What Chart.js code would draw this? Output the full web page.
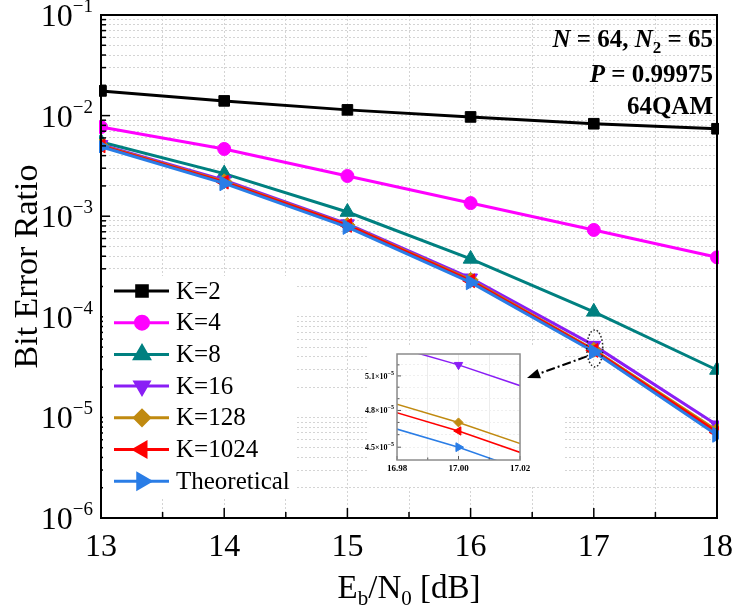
<!DOCTYPE html>
<html>
<head>
<meta charset="utf-8">
<script src="https://cdn.jsdelivr.net/npm/chart.js@4.4.1/dist/chart.umd.min.js"></script>
<style>
  body { margin: 0; background: #fff; }
  #wrap { position: relative; width: 736px; height: 612px; }
  #main { position: absolute; left: 0; top: 0; }
  #inset { position: absolute; left: 360px; top: 320px; }
</style>
</head>
<body>
<div id="wrap">
  <canvas id="main" width="736" height="612"></canvas>
  <canvas id="inset" width="260" height="175"></canvas>
</div>
<script>
// --- Data ---
const snr = [13, 14, 15, 16, 17, 18];
const berK2 = [1.76e-2, 1.40e-2, 1.14e-2, 9.7e-3, 8.3e-3, 7.4e-3];
const berK4 = [7.7e-3, 4.66e-3, 2.51e-3, 1.35e-3, 7.3e-4, 3.9e-4];
const berK8 = [5.47e-3, 2.65e-3, 1.10e-3, 3.76e-4, 1.12e-4, 2.96e-5];
const berK16 = [5.15e-3, 2.28e-3, 8.4e-4, 2.43e-4, 5.2e-5, 8.4e-6];
const berK128 = [5.05e-3, 2.22e-3, 8.2e-4, 2.33e-4, 4.7e-5, 7.4e-6];
const berK1024 = [5.0e-3, 2.18e-3, 8.1e-4, 2.28e-4, 4.63e-5, 7.1e-6];
const berTheory = [4.9e-3, 2.12e-3, 7.8e-4, 2.2e-4, 4.5e-5, 6.7e-6];

const xTickVals = [13, 13.5, 14, 14.5, 15, 15.5, 16, 16.5, 17, 17.5, 18];
const yExponents = [-6, -5, -4, -3, -2, -1];
const yMinorMantissas = [2, 3, 4, 5, 6, 7, 8, 9];

const insetXTicks = [16.98, 16.99, 17.00, 17.01, 17.02];
const insetXLabels = ['16.98', '', '17.00', '', '17.02'];
const insetYTicks = [4.5e-5, 4.6e-5, 4.7e-5, 4.8e-5, 4.9e-5, 5.0e-5, 5.1e-5, 5.2e-5];
const insetYLabels = ['4.5', '', '', '4.8', '', '', '5.1', ''];

const FONT = "'Liberation Serif', 'Times New Roman', serif";

// --- Helpers ---
function series(label, data, color, style, rotation, radius, order) {
  return {
    label, order,
    data: snr.map((x, i) => ({ x, y: data[i] })),
    borderColor: color, backgroundColor: color,
    borderWidth: 3, pointStyle: style, rotation,
    pointRadius: radius, pointBorderWidth: 1, pointBorderColor: color,
    pointBackgroundColor: color, clip: 2
  };
}

// draws pieces of text right-aligned at rx
function drawRich(ctx, parts, rx, base) {
  let w = 0;
  parts.forEach(p => { ctx.font = p.f; w += ctx.measureText(p.t).width; });
  let x = rx - w;
  parts.forEach(p => {
    ctx.font = p.f;
    ctx.fillText(p.t, x, base + (p.dy || 0));
    x += ctx.measureText(p.t).width;
  });
}
function drawRichLeft(ctx, parts, lx, base) {
  let x = lx;
  parts.forEach(p => {
    ctx.font = p.f;
    ctx.fillText(p.t, x, base + (p.dy || 0));
    x += ctx.measureText(p.t).width;
  });
  return x - lx;
}

const datasets = [
  series('K=2', berK2, '#000000', 'rect', 0, 7.5, 6),
  series('K=4', berK4, '#ff00ff', 'circle', 0, 6.5, 5),
  series('K=8', berK8, '#008080', 'triangle', 0, 8.5, 4),
  series('K=16', berK16, '#8a1ef5', 'triangle', 180, 8, 3),
  series('K=128', berK128, '#c08a10', 'rectRot', 0, 7.5, 2),
  series('K=1024', berK1024, '#ff0000', 'triangle', -90, 8, 1),
  series('Theoretical', berTheory, '#2a7de6', 'triangle', 90, 8.5, 0)
];

// --- Main chart decorations ---
const decor = {
  id: 'decor',
  afterDraw(chart) {
    const { ctx, chartArea: a, scales: { x, y } } = chart;
    ctx.save();
    ctx.strokeStyle = '#000';
    // x ticks (inward)
    ctx.lineWidth = 1.5;
    xTickVals.forEach(v => {
      const px = x.getPixelForValue(v);
      const len = Number.isInteger(v) ? 10 : 6;
      ctx.beginPath(); ctx.moveTo(px, a.bottom); ctx.lineTo(px, a.bottom - len); ctx.stroke();
    });
    // y ticks (inward) + labels
    yExponents.forEach(e => {
      const py = y.getPixelForValue(Math.pow(10, e));
      ctx.beginPath(); ctx.moveTo(a.left, py); ctx.lineTo(a.left + 9, py); ctx.stroke();
      if (e < -1) {
        yMinorMantissas.forEach(m => {
          const pm = y.getPixelForValue(m * Math.pow(10, e));
          ctx.beginPath(); ctx.moveTo(a.left, pm); ctx.lineTo(a.left + 5, pm); ctx.stroke();
        });
      }
      ctx.fillStyle = '#000';
      ctx.textBaseline = 'alphabetic';
      drawRich(ctx, [
        { t: '10', f: '32px ' + FONT },
        { t: '\u2212' + Math.abs(e), f: '19px ' + FONT, dy: -14 }
      ], a.left - 8, py + 11);
    });
    // frame
    ctx.lineWidth = 2;
    ctx.strokeRect(a.left, a.top, a.right - a.left, a.bottom - a.top);

    // axis titles
    ctx.fillStyle = '#000';
    ctx.textBaseline = 'alphabetic';
    const xt = [
      { t: 'E', f: '33px ' + FONT },
      { t: 'b', f: '21px ' + FONT, dy: 7 },
      { t: '/N', f: '33px ' + FONT },
      { t: '0', f: '21px ' + FONT, dy: 7 },
      { t: ' [dB]', f: '33px ' + FONT }
    ];
    let tw = 0;
    xt.forEach(p => { ctx.font = p.f; tw += ctx.measureText(p.t).width; });
    drawRichLeft(ctx, xt, (a.left + a.right) / 2 - tw / 2, 598);

    ctx.save();
    ctx.translate(37, (a.top + a.bottom) / 2);
    ctx.rotate(-Math.PI / 2);
    ctx.textAlign = 'center';
    ctx.font = '34px ' + FONT;
    ctx.fillText('Bit Error Ratio', 0, 0);
    ctx.restore();

    // annotation
    const b = 'bold 25px ' + FONT, bi = 'italic bold 25px ' + FONT;
    drawRich(ctx, [
      { t: 'N', f: bi }, { t: ' = 64, ', f: b }, { t: 'N', f: bi },
      { t: '2', f: 'bold 17px ' + FONT, dy: 6 }, { t: ' = 65', f: b }
    ], a.right - 4, 47);
    drawRich(ctx, [{ t: 'P', f: bi }, { t: ' = 0.99975', f: b }], a.right - 4, 82);
    drawRich(ctx, [{ t: '64QAM', f: b }], a.right - 4, 114);

    // legend
    ctx.fillStyle = '#fff';
    ctx.fillRect(a.left + 2, 276, 194, 222);
    chart.data.datasets.forEach((ds, i) => {
      const yy = 291 + i * 31.7;
      ctx.strokeStyle = ds.borderColor;
      ctx.fillStyle = ds.borderColor;
      ctx.lineWidth = 3;
      ctx.beginPath(); ctx.moveTo(a.left + 13, yy); ctx.lineTo(a.left + 68, yy); ctx.stroke();
      Chart.helpers.drawPoint(ctx, {
        pointStyle: ds.pointStyle, rotation: ds.rotation,
        radius: ds.pointRadius, borderWidth: 1
      }, a.left + 41, yy);
      ctx.fillStyle = '#000';
      ctx.font = '25px ' + FONT;
      ctx.textBaseline = 'middle';
      ctx.fillText(ds.label, a.left + 75, yy + 1);
    });
    ctx.restore();
  }
};

const mainChart = new Chart(document.getElementById('main'), {
  type: 'line',
  data: { datasets },
  options: {
    responsive: false, animation: false,
    layout: { padding: { left: 0, right: 19, top: 15, bottom: 0 } },
    plugins: { legend: { display: false }, tooltip: { enabled: false } },
    scales: {
      x: {
        type: 'linear', min: 13, max: 18,
        afterBuildTicks: s => { s.ticks = xTickVals.map(v => ({ value: v })); },
        afterFit: s => { s.height = 94; s.paddingLeft = 0; s.paddingRight = 0; },
        grid: { color: '#d4d4d4', lineWidth: 1, drawTicks: false },
        border: { display: false, dash: [2, 2] },
        ticks: {
          autoSkip: false, maxRotation: 0, padding: 10, color: '#000',
          font: { family: FONT, size: 32 },
          callback: v => Number.isInteger(v) ? String(v) : ''
        }
      },
      y: {
        type: 'logarithmic', min: 1e-6, max: 1e-1,
        afterBuildTicks: s => {
          const t = [];
          yExponents.forEach(e => {
            t.push({ value: Math.pow(10, e) });
            if (e < -1) yMinorMantissas.forEach(m => t.push({ value: m * Math.pow(10, e) }));
          });
          s.ticks = t;
        },
        afterFit: s => { s.width = 101; s.paddingTop = 0; s.paddingBottom = 0; },
        grid: { color: '#d4d4d4', lineWidth: 1, drawTicks: false },
        border: { display: false, dash: [2, 2] },
        ticks: { autoSkip: false, callback: () => '' }
      }
    }
  },
  plugins: [decor]
});

// --- Inset ---
const insetOffset = { left: 360, top: 320 };
const insetDecor = {
  id: 'insetDecor',
  beforeDraw(chart) {
    const { ctx } = chart;
    ctx.save();
    ctx.fillStyle = '#fff';
    ctx.fillRect(7, 25, 198, 140);
    ctx.restore();
  },
  afterDraw(chart) {
    const { ctx, chartArea: a, scales: { x, y } } = chart;
    ctx.save();
    ctx.strokeStyle = '#555';
    ctx.lineWidth = 1;
    insetXTicks.forEach((v, i) => {
      const px = x.getPixelForValue(v);
      const len = insetXLabels[i] ? 4 : 2.5;
      ctx.beginPath(); ctx.moveTo(px, a.bottom); ctx.lineTo(px, a.bottom - len); ctx.stroke();
      if (insetXLabels[i]) {
        ctx.fillStyle = '#000';
        ctx.font = 'bold 9px ' + FONT;
        ctx.textAlign = 'center';
        ctx.fillText(insetXLabels[i], px, a.bottom + 11);
      }
    });
    ctx.textAlign = 'left';
    insetYTicks.forEach((v, i) => {
      const py = y.getPixelForValue(v);
      const len = insetYLabels[i] ? 4 : 2.5;
      ctx.beginPath(); ctx.moveTo(a.left, py); ctx.lineTo(a.left + len, py); ctx.stroke();
      if (insetYLabels[i]) {
        ctx.fillStyle = '#000';
        drawRich(ctx, [
          { t: insetYLabels[i] + '\u00d710', f: 'bold 8px ' + FONT },
          { t: '\u22125', f: 'bold 6px ' + FONT, dy: -4 }
        ], a.left - 3, py + 3);
      }
    });
    ctx.strokeStyle = '#8c8c8c';
    ctx.lineWidth = 1.5;
    ctx.strokeRect(a.left, a.top, a.right - a.left, a.bottom - a.top);

    // zoom marker ellipse and arrow, placed from the main chart scales
    const mx = mainChart.scales.x.getPixelForValue(17) - insetOffset.left;
    const my = mainChart.scales.y.getPixelForValue(4.85e-5) - insetOffset.top;
    ctx.strokeStyle = '#222';
    ctx.lineWidth = 1.5;
    ctx.setLineDash([1.5, 2]);
    ctx.beginPath(); ctx.ellipse(mx + 1, my, 8, 18.5, 0, 0, Math.PI * 2); ctx.stroke();

    const sx = mx - 7, sy = my + 8;
    const tx = a.right + 7, ty = a.top + 24;
    const ang = Math.atan2(ty - sy, tx - sx);
    const hx = tx - 13 * Math.cos(ang), hy = ty - 13 * Math.sin(ang);
    ctx.strokeStyle = '#000';
    ctx.lineWidth = 2;
    ctx.setLineDash([9, 3, 2, 3]);
    ctx.beginPath(); ctx.moveTo(sx, sy); ctx.lineTo(hx, hy); ctx.stroke();
    ctx.setLineDash([]);
    ctx.fillStyle = '#000';
    ctx.beginPath();
    ctx.moveTo(tx, ty);
    ctx.lineTo(hx + 5 * Math.sin(ang), hy - 5 * Math.cos(ang));
    ctx.lineTo(hx - 5 * Math.sin(ang), hy + 5 * Math.cos(ang));
    ctx.closePath(); ctx.fill();
    ctx.restore();
  }
};

const insetSets = datasets.slice(3).map(ds => Object.assign({}, ds, {
  borderWidth: 1.5, pointRadius: ds.pointRadius * 0.6, clip: 0
}));

new Chart(document.getElementById('inset'), {
  type: 'line',
  data: { datasets: insetSets },
  options: {
    responsive: false, animation: false,
    layout: { padding: { left: 0, right: 100, top: 34, bottom: 0 } },
    plugins: { legend: { display: false }, tooltip: { enabled: false } },
    scales: {
      x: {
        type: 'linear', min: 16.98, max: 17.02,
        afterBuildTicks: s => { s.ticks = insetXTicks.map(v => ({ value: v })); },
        afterFit: s => { s.height = 35; },
        grid: { color: '#ececec', lineWidth: 1, drawTicks: false },
        border: { display: false },
        ticks: { display: false }
      },
      y: {
        type: 'logarithmic', min: 4.4e-5, max: 5.3e-5,
        afterBuildTicks: s => { s.ticks = insetYTicks.map(v => ({ value: v })); },
        afterFit: s => { s.width = 37; },
        grid: { color: '#efefef', lineWidth: 1, drawTicks: false },
        border: { display: false, dash: [2, 2] },
        ticks: { display: false }
      }
    }
  },
  plugins: [insetDecor]
});
</script>
</body>
</html>
